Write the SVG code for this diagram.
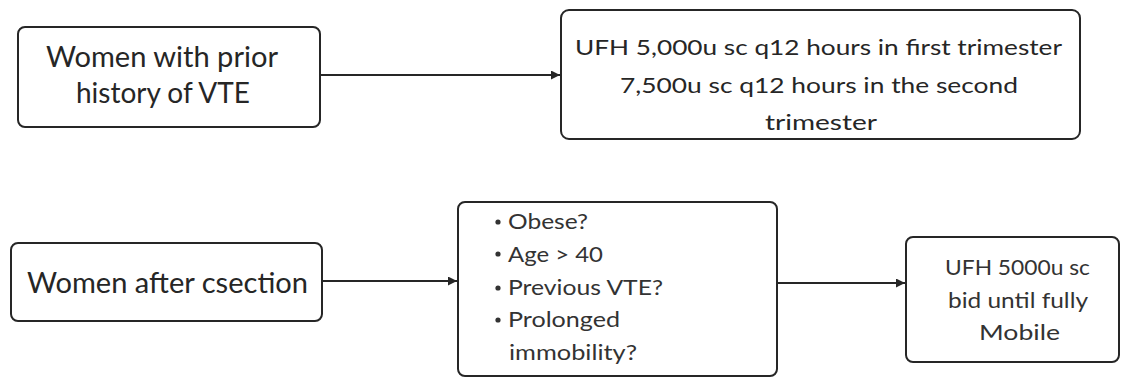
<svg xmlns="http://www.w3.org/2000/svg" width="1127" height="381" viewBox="0 0 1127 381">
  <style>
    .box { fill: #ffffff; stroke: #262626; stroke-width: 2; }
    .lbl { font-family: Lato, "Open Sans", "Liberation Sans", sans-serif; fill: #262626; }
    .big { font-size: 28px; }
    .mid { font-size: 22px; }
    .sml { font-size: 21px; fill: #333333; }
    .soft { fill: #333333; }
    .edge { stroke: #262626; stroke-width: 2; fill: none; }
    .dot { fill: #333333; }
  </style>
  <defs>
    <marker id="head" viewBox="0 0 10 10" refX="10" refY="5" markerWidth="4.5" markerHeight="4.5" orient="auto" markerUnits="strokeWidth">
      <path d="M0,0 L10,5 L0,10 Z" fill="#262626"/>
    </marker>
  </defs>
  <rect width="1127" height="381" fill="#ffffff"/>

  <!-- connectors -->
  <g id="connectors">
    <line class="edge" x1="320" y1="75" x2="560" y2="75" marker-end="url(#head)"/>
    <line class="edge" x1="322" y1="281" x2="457" y2="281" marker-end="url(#head)"/>
    <line class="edge" x1="777" y1="283" x2="905" y2="283" marker-end="url(#head)"/>
  </g>

  <!-- prior VTE -->
  <g id="node-prior-vte">
    <rect class="box" x="18" y="27" width="302" height="100" rx="7"/>
    <text class="lbl big" x="46" y="67" textLength="232" lengthAdjust="spacingAndGlyphs">Women with prior</text>
    <text class="lbl big" x="76" y="103" textLength="174" lengthAdjust="spacingAndGlyphs">history of VTE</text>
  </g>

  <!-- UFH dosing by trimester -->
  <g id="node-ufh-trimester">
    <rect class="box" x="561" y="10" width="519" height="129" rx="8"/>
    <text class="lbl mid" x="575" y="55" textLength="487" lengthAdjust="spacingAndGlyphs">UFH 5,000u sc q12 hours in first trimester</text>
    <text class="lbl mid" x="620" y="93" textLength="398" lengthAdjust="spacingAndGlyphs">7,500u sc q12 hours in the second</text>
    <text class="lbl mid" x="765" y="130" textLength="112" lengthAdjust="spacingAndGlyphs">trimester</text>
  </g>

  <!-- after caesarean section -->
  <g id="node-csection">
    <rect class="box" x="11" y="243" width="311" height="78" rx="7"/>
    <text class="lbl big" x="27" y="293" textLength="281" lengthAdjust="spacingAndGlyphs">Women after csection</text>
  </g>

  <!-- risk factors -->
  <g id="node-risk-factors">
    <rect class="box" x="458" y="202" width="319" height="174" rx="7"/>
    <circle class="dot" cx="498" cy="222" r="2.6"/>
    <circle class="dot" cx="498" cy="254" r="2.6"/>
    <circle class="dot" cx="498" cy="288" r="2.6"/>
    <circle class="dot" cx="498" cy="320" r="2.6"/>
    <text class="lbl sml" x="508" y="229" textLength="80" lengthAdjust="spacingAndGlyphs">Obese?</text>
    <text class="lbl sml" x="508" y="262" textLength="95" lengthAdjust="spacingAndGlyphs">Age &gt; 40</text>
    <text class="lbl sml" x="508" y="295" textLength="155" lengthAdjust="spacingAndGlyphs">Previous VTE?</text>
    <text class="lbl sml" x="508" y="327" textLength="112" lengthAdjust="spacingAndGlyphs">Prolonged</text>
    <text class="lbl sml" x="509" y="360" textLength="128" lengthAdjust="spacingAndGlyphs">immobility?</text>
  </g>

  <!-- UFH until mobile -->
  <g id="node-ufh-mobile">
    <rect class="box" x="906" y="237" width="213" height="125" rx="7"/>
    <text class="lbl mid soft" x="945" y="275" textLength="145" lengthAdjust="spacingAndGlyphs">UFH 5000u sc</text>
    <text class="lbl mid soft" x="948" y="308" textLength="140" lengthAdjust="spacingAndGlyphs">bid until fully</text>
    <text class="lbl mid soft" x="979" y="340" textLength="81" lengthAdjust="spacingAndGlyphs">Mobile</text>
  </g>
</svg>
